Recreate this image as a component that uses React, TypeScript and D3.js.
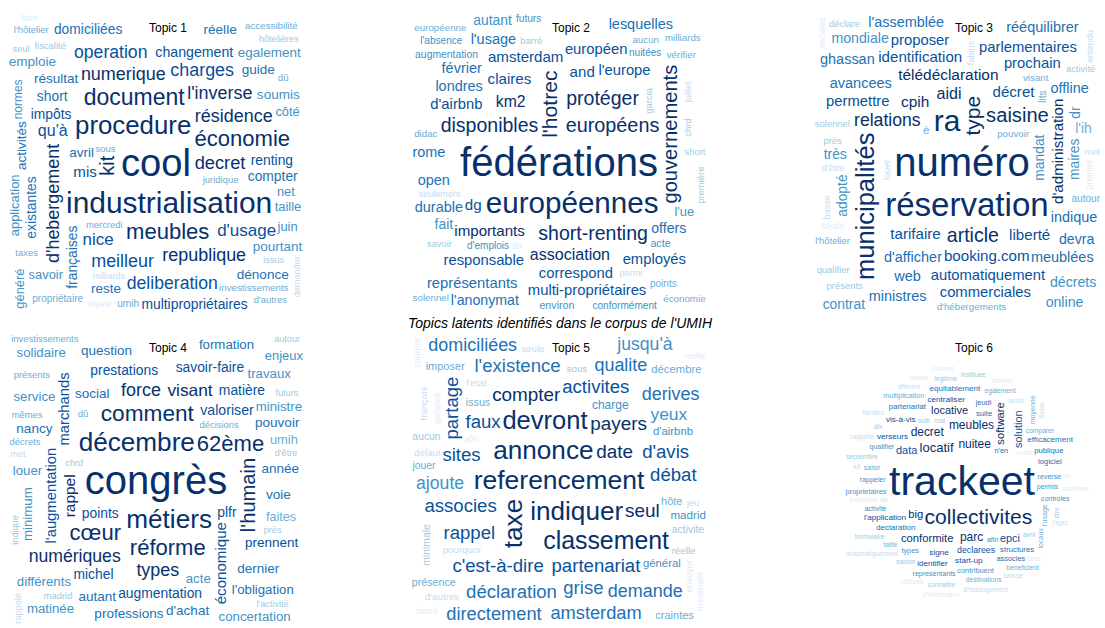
import React, { useMemo } from "react";
import * as d3 from "d3";

type Term = [string, number];

// Relative term weights per topic (top term of each topic = 100)
const topic1Terms: Term[] = [
  ["cool", 94], ["industrialisation", 68], ["procedure", 55], ["document", 46], ["meubles", 43], ["économie", 43],
  ["kit", 37], ["decret", 31], ["d'hebergement", 30], ["numerique", 30], ["résidence", 30], ["republique", 30],
  ["l'inverse", 30], ["charges", 30], ["meilleur", 30], ["operation", 29], ["deliberation", 29], ["d'usage", 27],
  ["nice", 27], ["qu'à", 24], ["mis", 21], ["changement", 18], ["multipropriétaires", 17], ["impôts", 17],
  ["renting", 17], ["existantes", 17], ["françaises", 17], ["short", 17], ["domiciliées", 17], ["compter", 17],
  ["avril", 16], ["résultat", 16], ["reste", 16], ["guide", 16], ["réelle", 16], ["activités", 16], ["dénonce", 16],
  ["pourtant", 16], ["soumis", 16], ["emploie", 16], ["egalement", 16], ["taille", 14], ["net", 14], ["côté", 14],
  ["savoir", 14], ["juin", 14], ["application", 14], ["généré", 14], ["normes", 11], ["umih", 5], ["propriétaire", 5],
  ["investissements", 4], ["accessibilité", 4], ["c'est-à-dire", 4], ["dû", 4], ["sous", 3], ["l'hôtelier", 3],
  ["taxes", 3], ["d'autres", 3], ["juridique", 3], ["mercredi", 3], ["l'instar", 3], ["vendredi", 3], ["fiscalité", 3],
  ["déclarent", 3], ["issus", 2], ["hôtelières", 2], ["propose", 2], ["d'emplois", 2], ["résidences", 2], ["seul", 2],
  ["disponibles", 2], ["logements", 2], ["demander", 2], ["chacun", 2], ["short-renting", 2], ["l'expansion", 2],
  ["demain", 2], ["rappelé", 2], ["représentent", 2], ["permettrait", 2], ["activité", 2], ["sociales", 1],
  ["obligatoire", 1], ["milliards", 1], ["d'excès", 1], ["maximale", 1], ["start-up", 1], ["présence", 1],
  ["hôtelière", 1], ["imposer", 1], ["bien", 1], ["loyale", 1], ["déclaration", 1], ["fixation", 1], ["hôtels", 1],
];
const topic1Vertical = ["d'hebergement", "kit", "existantes", "françaises", "activités", "normes", "application",
  "généré", "demander", "chacun", "short-renting", "permettrait"];

const topic2Terms: Term[] = [
  ["fédérations", 100], ["européennes", 67], ["l'hotrec", 40], ["gouvernements", 37], ["européens", 36],
  ["short-renting", 35], ["disponibles", 35], ["protéger", 35], ["association", 24], ["km2", 23], ["importants", 21],
  ["claires", 21], ["and", 21], ["dg", 21], ["amsterdam", 21], ["correspond", 20], ["responsable", 20],
  ["multi-propriétaires", 20], ["européen", 20], ["l'europe", 20], ["d'airbnb", 20], ["employés", 20],
  ["représentants", 20], ["durable", 19], ["londres", 19], ["février", 19], ["open", 19], ["l'usage", 19], ["rome", 19],
  ["lesquelles", 19], ["offers", 18], ["l'anonymat", 18], ["autant", 17], ["fait", 17], ["l'ue", 14], ["acte", 7],
  ["environ", 7], ["augmentation", 6], ["nuitées", 5], ["futurs", 5], ["l'absence", 5], ["conformément", 5],
  ["d'emplois", 5], ["points", 5], ["aucun", 4], ["représentent", 4], ["européenne", 4], ["vérifier", 4], ["didac", 4],
  ["économie", 4], ["milliards", 4], ["important", 4], ["solennel", 4], ["l'expansion", 3], ["multipropriétaires", 3],
  ["juridique", 3], ["barré", 3], ["short", 3], ["l'activité", 3], ["garcia", 3], ["chrd", 3], ["première", 3],
  ["savoir", 3], ["hébergements", 3], ["lancent", 2], ["appliquer", 2], ["suivants", 2], ["renting", 2], ["juillet", 2],
  ["parmi", 2], ["plupart", 2], ["seulement", 2], ["multiplication", 2], ["anne-sophie", 2], ["appellent", 2],
  ["l'espagne", 2], ["avantages", 2], ["tromperie", 1], ["monde", 1], ["voisinage", 1], ["visent", 1], ["permis", 1],
  ["précédent", 1], ["réellement", 1], ["dix", 1],
];
const topic2Vertical = ["l'hotrec", "gouvernements", "garcia", "chrd", "première", "juillet"];

const topic3Terms: Term[] = [
  ["numéro", 100], ["réservation", 78], ["ra", 68], ["municipalités", 54], ["type", 40], ["saisine", 37],
  ["article", 35], ["relations", 29], ["aidi", 24], ["cpih", 22], ["télédéclaration", 22], ["d'administration", 21],
  ["tarifaire", 21], ["décret", 21], ["liberté", 21], ["booking.com", 21], ["identification", 21],
  ["automatiquement", 20], ["parlementaires", 20], ["permettre", 20], ["prochain", 20], ["proposer", 20],
  ["commerciales", 20], ["avancees", 19], ["d'afficher", 19], ["l'assemblée", 19], ["offline", 19], ["ministres", 19],
  ["meublées", 19], ["ghassan", 19], ["indique", 19], ["web", 19], ["rééquilibrer", 19], ["devra", 18], ["décrets", 18],
  ["online", 18], ["mondiale", 18], ["maires", 17], ["mandat", 17], ["adopté", 17], ["dr", 17], ["très", 17],
  ["partenaires", 17], ["possible", 17], ["contrat", 17], ["l'ih", 17], ["félicitent", 17], ["figurer", 16], ["è", 10],
  ["lits", 6], ["autour", 5], ["décisions", 4], ["pouvoir", 4], ["visant", 4], ["d'hébergements", 4], ["l'hôtelier", 3],
  ["près", 3], ["présents", 3], ["solennel", 3], ["activité", 3], ["qualifier", 3], ["déclare", 3], ["territoires", 3],
  ["commission", 3], ["mêmes", 3], ["nouvelle", 3], ["pierre", 3], ["imposant", 3], ["reconnaissance", 2],
  ["structures", 2], ["européens", 2], ["important", 2], ["d'être", 2], ["met", 2], ["louer", 2], ["basse", 2],
  ["entendu", 2], ["fabius", 2], ["chacun", 2], ["déclarent", 2], ["associées", 2], ["commerce", 2],
  ["d'accueillir", 2], ["logements", 1], ["premier", 1], ["loyale", 1], ["propose", 1], ["première", 1], ["sociales", 1],
];
const topic3Vertical = ["municipalités", "type", "d'administration", "maires", "mandat", "adopté", "dr", "lits",
  "louer", "basse", "entendu", "fabius", "logements", "premier", "sociales"];

const topic4Terms: Term[] = [
  ["congrès", 100], ["métiers", 56], ["décembre", 56], ["comment", 45], ["réforme", 43], ["cœur", 43], ["62ème", 43],
  ["l'humain", 37], ["types", 30], ["force", 30], ["numériques", 29], ["visant", 28], ["rappel", 22],
  ["économique", 21], ["l'augmentation", 20], ["marchands", 20], ["valoriser", 18], ["augmentation", 17],
  ["prestations", 17], ["savoir-faire", 17], ["michel", 17], ["points", 17], ["matière", 17], ["plfr", 17],
  ["prennent", 16], ["année", 16], ["dernier", 16], ["social", 16], ["voie", 16], ["d'achat", 16], ["autant", 16],
  ["pouvoir", 16], ["question", 16], ["nancy", 16], ["professions", 16], ["formation", 15], ["l'obligation", 15],
  ["différents", 15], ["minimum", 15], ["acte", 15], ["travaux", 15], ["concertation", 15], ["matinée", 15],
  ["propriétaires", 15], ["louer", 15], ["ministre", 15], ["service", 15], ["solidaire", 15], ["questions", 15],
  ["enjeux", 14], ["nouvelle", 14], ["jeunes", 14], ["umih", 14], ["faites", 13], ["d'hébergement", 12],
  ["directement", 3], ["investissements", 3], ["mêmes", 3], ["décisions", 3], ["présents", 3], ["dû", 3],
  ["décrets", 3], ["imposant", 3], ["madrid", 3], ["normes", 3], ["contribuent", 2], ["futurs", 2], ["l'activité", 2],
  ["d'être", 2], ["indique", 2], ["autour", 2], ["entendu", 2], ["près", 2], ["chrd", 2], ["environ", 2],
  ["rappelé", 2], ["met", 2], ["pierre", 2], ["destination", 2], ["taxes", 2], ["territoires", 2], ["nuitées", 2],
  ["d'hébergements", 2], ["fiscalité", 2], ["craintes", 2], ["l'instar", 2], ["commission", 1], ["propriétaire", 1],
  ["français", 1], ["déclaré", 1], ["chargé", 1], ["commerce", 1], ["d'accueillir", 1], ["reconnaissance", 1],
  ["accessibilité", 1], ["vendredi", 1], ["général", 1], ["fabius", 1],
];
const topic4Vertical = ["l'humain", "économique", "l'augmentation", "marchands", "rappel", "minimum", "jeunes",
  "d'hébergement", "indique", "normes", "environ", "rappelé"];

const topic5Terms: Term[] = [
  ["referencement", 57], ["annonce", 56], ["indiquer", 56], ["taxe", 56], ["devront", 54], ["classement", 52],
  ["payers", 33], ["date", 33], ["seul", 33], ["compter", 33], ["partenariat", 32], ["c'est-à-dire", 32],
  ["associes", 32], ["activites", 32], ["rappel", 32], ["sites", 32], ["faux", 32], ["d'avis", 32], ["partage", 32],
  ["débat", 32], ["grise", 32], ["déclaration", 32], ["l'existence", 32], ["amsterdam", 31], ["directement", 31],
  ["demande", 30], ["qualite", 30], ["derives", 30], ["domiciliées", 30], ["supercherie", 30], ["ajoute", 29],
  ["jusqu'à", 29], ["yeux", 28], ["charge", 11], ["madrid", 10], ["proprietaires", 10], ["d'annonces", 9],
  ["général", 9], ["d'airbnb", 9], ["décembre", 9], ["hôte", 8], ["imposer", 8], ["craintes", 8], ["présence", 7],
  ["obligatoire", 7], ["permettrait", 7], ["premier", 7], ["issus", 7], ["jouer", 6], ["activite", 6], ["aucun", 6],
  ["minimale", 6], ["indication", 5], ["l'absence", 5], ["modèle", 5], ["sous", 4], ["réelle", 4], ["fixation", 4],
  ["d'autres", 4], ["seule", 4], ["l'etat", 4], ["pourquoi", 4], ["d'excès", 4], ["françois", 4], ["défaut", 3],
  ["jeu", 3], ["l'auteur", 3], ["engager", 3], ["garantit", 3], ["civile", 2], ["barré", 2], ["envoyer", 2],
  ["d'inviter", 2], ["maximale", 2], ["étudier", 1], ["courrier", 1], ["afin", 1],
];
const topic5Vertical = ["taxe", "partage", "minimale", "françois", "garantit", "envoyer", "d'inviter", "maximale",
  "courrier"];

const topic6Terms: Term[] = [
  ["trackeet", 100], ["collectivites", 43], ["locatif", 20], ["nuitee", 17], ["decret", 17], ["meubles", 17],
  ["parc", 17], ["conformite", 15], ["software", 15], ["big", 15], ["locative", 14], ["data", 14], ["solution", 14],
  ["epci", 14], ["declarees", 8], ["start-up", 6], ["signe", 6], ["l'application", 6], ["verseurs", 6],
  ["identifier", 6], ["vis-à-vis", 6], ["centraliser", 6], ["equitablement", 6], ["declaration", 6],
  ["efficacement", 6], ["publique", 5], ["suite", 5], ["partenariat", 5], ["logiciel", 5], ["structures", 5],
  ["n'en", 4], ["associes", 4], ["jeudi", 4], ["afin", 4], ["contribuent", 4], ["types", 4], ["proprietaires", 4],
  ["activite", 3], ["qualifier", 3], ["reverse", 3], ["rappeler", 3], ["representants", 3], ["permis", 3],
  ["controles", 3], ["l'usage", 3], ["saisir", 3], ["multiplication", 3], ["moyenne", 3], ["locaux", 3], ["taille", 2],
  ["egalement", 2], ["comparer", 2], ["beneficient", 2], ["destinations", 2], ["legitime", 2], ["connaitre", 2],
  ["septembre", 2], ["outil", 2], ["avril", 2], ["saison", 2], ["formulaire", 2], ["mai", 2], ["dix", 2], ["titre", 2],
  ["instituee", 2], ["où", 2], ["seuls", 2], ["d'hebergement", 2], ["rappelle", 2], ["automatiquement", 2],
  ["baisse", 2], ["kit", 2], ["fiscal", 2], ["familles", 1], ["different", 1], ["l'epci", 1], ["seules", 1],
  ["metiers", 1], ["rares", 1], ["union", 1], ["utilisees", 1], ["existent", 1], ["d'information", 1], ["via", 1],
  ["contribue", 1], ["promotion", 1],
];
const topic6Vertical = ["software", "solution", "l'usage", "moyenne", "locaux", "titre", "fiscal"];

const topicTitles = ["Topic 1", "Topic 2", "Topic 3", "Topic 4", "Topic 5", "Topic 6"];
const mainTitle = "Topics latents identifiés dans le corpus de l'UMIH";

const blues = ["#DEEBF7", "#C6DBEF", "#9ECAE1", "#6BAED6", "#4292C6", "#2171B5", "#08519C", "#08306B"];
const FONT = '"Liberation Sans", Arial, Helvetica, sans-serif';

const W = 1105;
const H = 628;

interface Placed {
  text: string;
  x: number;
  y: number;
  size: number;
  vertical: boolean;
  color: string;
}

interface Box { x0: number; y0: number; x1: number; y1: number; }

function layoutCloud(
  terms: Term[], vertical: string[], sizeRange: [number, number],
  bounds: Box, cx: number, cy: number, obstacles: Box[], ctx: CanvasRenderingContext2D
): Placed[] {
  const sorted = terms.map((t, i) => ({ text: t[0], f: t[1], i }))
    .sort((a, b) => b.f - a.f || a.i - b.i);
  const size = d3.scaleLinear().domain([0, 100]).range(sizeRange);
  const n = sorted.length;
  const color = d3.scaleQuantize<string>().domain([0, 1]).range(blues);
  const boxes: Box[] = [...obstacles];
  const out: Placed[] = [];
  const rStep = 0.05, tStep = 0.1;
  const spanX = bounds.x1 - bounds.x0;
  const spanY = bounds.y1 - bounds.y0;
  sorted.forEach((w, rank) => {
    const fs = size(w.f);
    ctx.font = `${fs}px ${FONT}`;
    const width = ctx.measureText(w.text).width;
    // font-level box, a little taller for the largest words
    const asc = 0.8 * fs + Math.max(0, (fs - 20) * 0.2);
    const desc = 0.23 * fs;
    const rot = vertical.includes(w.text);
    const bw = rot ? asc + desc : width;
    const bh = rot ? width : asc + desc;
    const pad = 0.6;
    let theta = rank * 2.39996;
    let r = 0;
    while (r <= Math.SQRT1_2) {
      const px = cx + r * Math.cos(theta) * spanX;
      const py = cy + r * Math.sin(theta) * spanY;
      const b = { x0: px - bw / 2 - pad, x1: px + bw / 2 + pad, y0: py - bh / 2 - pad, y1: py + bh / 2 + pad };
      const inside = b.x0 >= bounds.x0 && b.x1 <= bounds.x1 && b.y0 >= bounds.y0 && b.y1 <= bounds.y1;
      if (inside && !boxes.some(o => b.x0 < o.x1 && b.x1 > o.x0 && b.y0 < o.y1 && b.y1 > o.y0)) {
        boxes.push(b);
        const t = 1 - rank / n;
        out.push({
          text: w.text,
          x: rot ? px + (asc - desc) / 2 : px,
          y: rot ? py : py + (asc - desc) / 2,
          size: fs,
          vertical: rot,
          color: color(Math.min(0.999, t)),
        });
        break;
      }
      theta += tStep;
      r += (rStep * tStep) / (2 * Math.PI);
    }
  });
  return out;
}

const panels = [
  { terms: topic1Terms, vertical: topic1Vertical, sizeRange: [8.5, 40] as [number, number] },
  { terms: topic2Terms, vertical: topic2Vertical, sizeRange: [8.5, 40] as [number, number] },
  { terms: topic3Terms, vertical: topic3Vertical, sizeRange: [8.5, 40] as [number, number] },
  { terms: topic4Terms, vertical: topic4Vertical, sizeRange: [8.5, 40] as [number, number] },
  { terms: topic5Terms, vertical: topic5Vertical, sizeRange: [8.5, 40] as [number, number] },
  { terms: topic6Terms, vertical: topic6Vertical, sizeRange: [6, 41] as [number, number] },
];

export default function App() {
  const clouds = useMemo(() => {
    const canvas = document.createElement("canvas");
    const ctx = canvas.getContext("2d")!;
    return panels.map((p, k) => {
      const col = k % 3;
      const row = Math.floor(k / 3);
      const cx = 156 + 403 * col;
      const cy = row === 0 ? 163 : 481;
      const hh = row === 0 ? 150 : 147;
      const titleX = cx + 12;
      const titleY = row === 0 ? 32 : 352;
      const bounds = {
        x0: Math.max(4, cx - 148), x1: Math.min(W - 4, cx + 148),
        y0: cy - hh, y1: Math.min(H - 2, cy + hh),
      };
      const titleBox = { x0: titleX - 24, x1: titleX + 24, y0: titleY - 12, y1: titleY + 4 };
      return {
        cx, row, titleX, titleY,
        words: layoutCloud(p.terms, p.vertical, p.sizeRange, bounds, cx, cy, [titleBox], ctx),
      };
    });
  }, []);

  return (
    <svg width={W} height={H} style={{ position: "absolute", left: 0, top: 0, background: "#fff" }}
      fontFamily={FONT}>
      <rect width={W} height={H} fill="#fff" />
      {clouds.map((c, k) => (
        <g key={k}>
          {c.words.map((w, i) => (
            <text key={i} x={w.vertical ? 0 : w.x} y={w.vertical ? 0 : w.y}
              transform={w.vertical ? `translate(${w.x},${w.y}) rotate(-90)` : undefined}
              fontSize={w.size} fill={w.color} textAnchor="middle">{w.text}</text>
          ))}
        </g>
      ))}
      {clouds.map((c, k) => (
        <text key={"t" + k} x={c.titleX} y={c.titleY} fontSize={12} fill="#000"
          textAnchor="middle">{topicTitles[k]}</text>
      ))}
      <text x={560} y={328} fontSize={14} fontStyle="italic" fill="#000" textAnchor="middle">{mainTitle}</text>
    </svg>
  );
}
